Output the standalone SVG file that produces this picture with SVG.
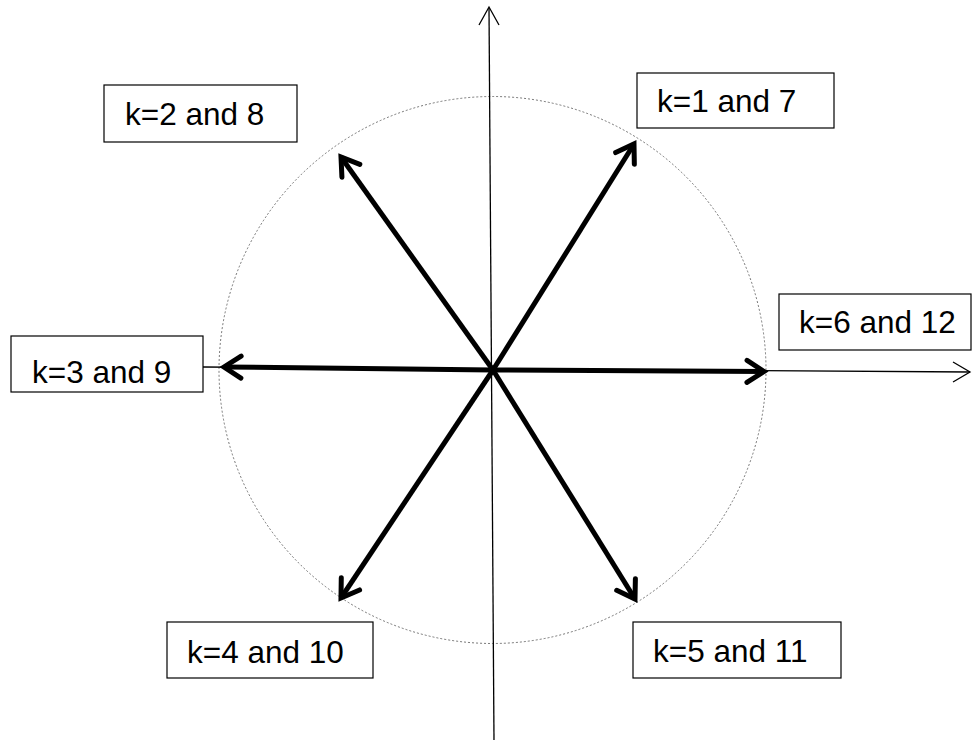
<svg xmlns="http://www.w3.org/2000/svg" width="978" height="740" viewBox="0 0 978 740">
<style>
.box{fill:#fff;stroke:#000;stroke-width:1.2}
.lbl{font-family:"Liberation Sans",Arial,sans-serif;font-size:31.5px;fill:#000}
.axis{stroke:#000;stroke-width:1.3;fill:none}
.vec{stroke:#000;stroke-width:5;fill:none;marker-end:url(#head)}
.circ{fill:none;stroke:#555;stroke-width:0.8;stroke-dasharray:2 2}
</style>
<defs>
<marker id="head" markerUnits="userSpaceOnUse" orient="auto" markerWidth="40" markerHeight="40" viewBox="-30 -20 40 40" refX="0" refY="0" overflow="visible">
<path d="M-17,-11 L0,0 L-17,11" fill="none" stroke="#000" stroke-width="5" stroke-linecap="round" stroke-linejoin="miter"/>
</marker>
</defs>
<circle class="circ" cx="492.5" cy="370" r="273.5"/>
<g id="connectors">
<path class="axis" d="M494,740 L489,8"/>
<path class="axis" d="M479,25 L489,7 L499,25"/>
<path class="axis" d="M203,367 L970,372"/>
<path class="axis" d="M953,362 L970,372 L953,382"/>
<line class="vec" x1="493" y1="370" x2="764" y2="371.5"/>
<line class="vec" x1="493" y1="370" x2="224" y2="367"/>
<line class="vec" x1="493" y1="370" x2="634" y2="144"/>
<line class="vec" x1="493" y1="370" x2="341" y2="157"/>
<line class="vec" x1="493" y1="370" x2="341" y2="598"/>
<line class="vec" x1="493" y1="370" x2="635" y2="599"/>
</g>
<g id="k1">
<rect class="box" x="637" y="73" width="197" height="55"/>
<text class="lbl" x="657" y="112">k=1 and 7</text>
</g>
<g id="k2">
<rect class="box" x="104" y="85" width="193" height="57"/>
<text class="lbl" x="125" y="125">k=2 and 8</text>
</g>
<g id="k3">
<rect class="box" x="11" y="336" width="192" height="56"/>
<text class="lbl" x="32" y="383">k=3 and 9</text>
</g>
<g id="k4">
<rect class="box" x="167" y="622" width="206" height="56"/>
<text class="lbl" x="187" y="663">k=4 and 10</text>
</g>
<g id="k5">
<rect class="box" x="633" y="622" width="208" height="56"/>
<text class="lbl" x="653" y="662">k=5 and 11</text>
</g>
<g id="k6">
<rect class="box" x="779" y="294" width="192" height="56"/>
<text class="lbl" x="799" y="333">k=6 and 12</text>
</g>
</svg>
